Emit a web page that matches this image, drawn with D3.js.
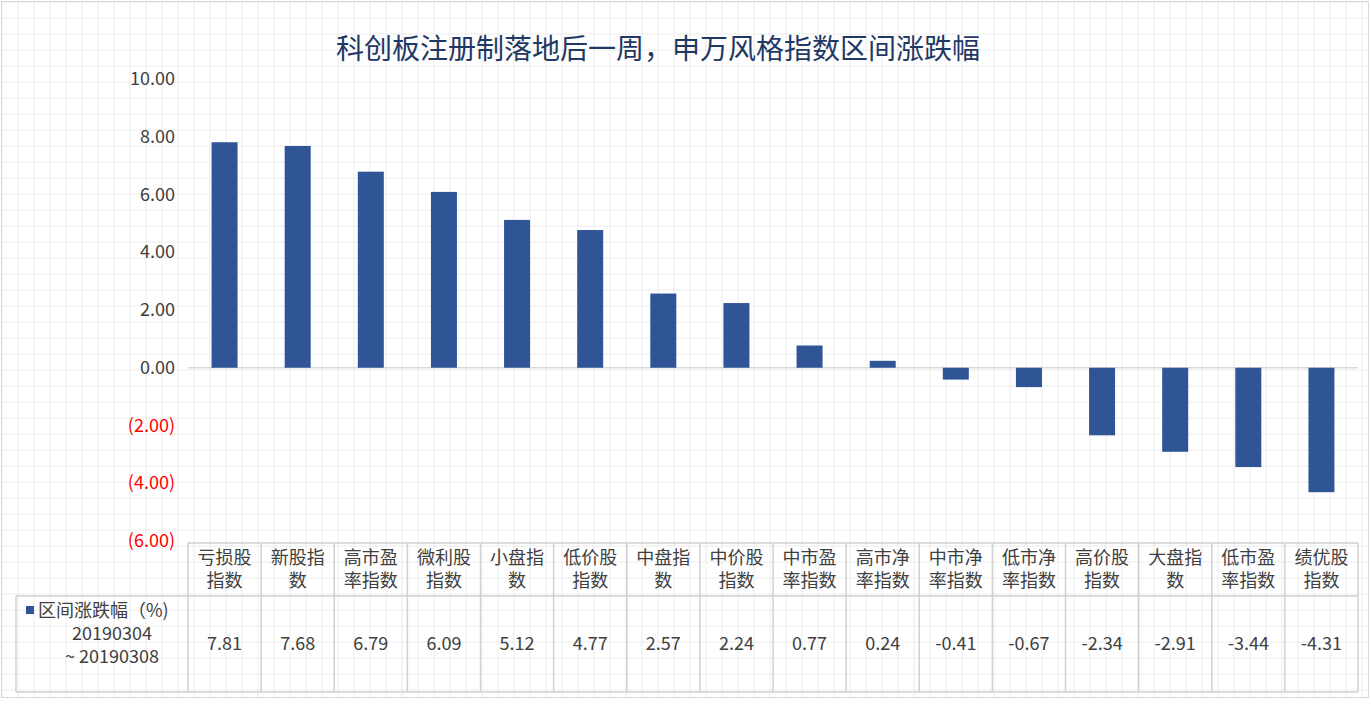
<!DOCTYPE html><html><head><meta charset="utf-8"><script src="https://cdn.jsdelivr.net/npm/d3@7"></script>
<style>body{margin:0;background:#fff}</style></head><body><svg id="c" width="1371" height="712"></svg>
<script>
const categories=[["亏损股","指数"],["新股指","数"],["高市盈","率指数"],["微利股","指数"],["小盘指","数"],["低价股","指数"],["中盘指","数"],["中价股","指数"],["中市盈","率指数"],["高市净","率指数"],["中市净","率指数"],["低市净","率指数"],["高价股","指数"],["大盘指","数"],["低市盈","率指数"],["绩优股","指数"]];
const values=[7.81,7.68,6.79,6.09,5.12,4.77,2.57,2.24,0.77,0.24,-0.41,-0.67,-2.34,-2.91,-3.44,-4.31];
const yTicks=[10,8,6,4,2,0,-2,-4,-6];
const seriesName=["区间涨跌幅（%)","20190304","~ 20190308"];
const title="科创板注册制落地后一周，申万风格指数区间涨跌幅";
const svg=d3.select("#c"),F="'Microsoft YaHei','Noto Sans CJK SC',sans-serif";
const L=188,R=1358,T=79,B=541;
const g0=svg.append("g");
for(let x=2;x<=1368;x+=16)g0.append("line").attr("x1",x).attr("x2",x).attr("y1",2).attr("y2",697).attr("stroke","#ececec");
for(let y=2;y<=697;y+=16)g0.append("line").attr("x1",2).attr("x2",1368).attr("y1",y).attr("y2",y).attr("stroke","#ececec");
svg.append("rect").attr("x",1.5).attr("y",1.5).attr("width",1367).attr("height",696).attr("fill","none").attr("stroke","#d9d9d9");
svg.append("text").attr("x",658).attr("y",59).attr("text-anchor","middle").attr("font-family",F).attr("font-size",28).attr("fill","#1f3864").text(title);
const y=d3.scaleLinear().domain([-6,10]).range([B,T]);
const x=d3.scaleBand().domain(d3.range(16)).range([L,R]);
yTicks.forEach(t=>svg.append("text").attr("x",175).attr("y",y(t)+6).attr("text-anchor","end").attr("font-family",F).attr("font-size",18).attr("fill",t<0?"#ff0000":"#404040").text(t<0?"("+Math.abs(t).toFixed(2)+")":t.toFixed(2)));
svg.append("line").attr("x1",L).attr("x2",R).attr("y1",y(0)).attr("y2",y(0)).attr("stroke","#d9d9d9").attr("stroke-width",1.5);
svg.selectAll(".b").data(values).enter().append("rect").attr("x",(d,i)=>x(i)+x.bandwidth()/2-13).attr("width",26)
 .attr("y",d=>y(Math.max(0,d))).attr("height",d=>Math.abs(y(d)-y(0))).attr("fill","#2f5597");
const tb=svg.append("g").attr("stroke","#d0d0d0").attr("stroke-width",1.5);
tb.append("line").attr("x1",L).attr("x2",R).attr("y1",B+2).attr("y2",B+2);
tb.append("line").attr("x1",16).attr("x2",R).attr("y1",596).attr("y2",596);
tb.append("line").attr("x1",16).attr("x2",R).attr("y1",692).attr("y2",692);
tb.append("line").attr("x1",16).attr("x2",16).attr("y1",596).attr("y2",692);
for(let i=0;i<=16;i++){const xx=i<16?x(i):R;tb.append("line").attr("x1",xx).attr("x2",xx).attr("y1",B+2).attr("y2",692);}
categories.forEach((c,i)=>{c.forEach((s,j)=>svg.append("text").attr("x",x(i)+x.bandwidth()/2).attr("y",564+j*23).attr("text-anchor","middle").attr("font-family",F).attr("font-size",18).attr("fill","#404040").text(s));
 svg.append("text").attr("x",x(i)+x.bandwidth()/2).attr("y",650).attr("text-anchor","middle").attr("font-family",F).attr("font-size",18).attr("fill","#404040").text(values[i].toFixed(2));});
svg.append("rect").attr("x",26).attr("y",606).attr("width",8).attr("height",8).attr("fill","#2f5597");
svg.append("text").attr("x",38).attr("y",617).attr("font-family",F).attr("font-size",18).attr("fill","#404040").text(seriesName[0]);
svg.append("text").attr("x",112).attr("y",640).attr("text-anchor","middle").attr("font-family",F).attr("font-size",18).attr("fill","#404040").text(seriesName[1]);
svg.append("text").attr("x",112).attr("y",663).attr("text-anchor","middle").attr("font-family",F).attr("font-size",18).attr("fill","#404040").text(seriesName[2]);
</script></body></html>
